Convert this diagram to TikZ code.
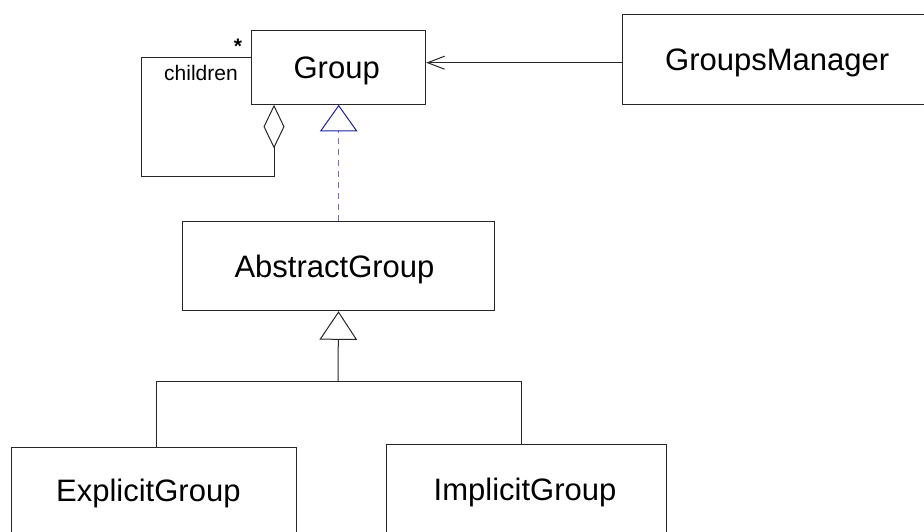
\documentclass[tikz,border=0pt]{standalone}
\usepackage{fontspec}
\setmainfont{Liberation Sans}
\usetikzlibrary{arrows.meta}
\definecolor{realline}{RGB}{110,110,205}
\definecolor{realtip}{RGB}{30,30,160}
% move a class name left inside its box by half the given amount
\newcommand\leftnudge[1]{\hspace*{-#1}}
\begin{document}
\begin{tikzpicture}[x=1pt,y=-1pt,
  classbox/.style={draw=black!85, line width=1pt, rectangle, inner sep=0pt,
    text height=22pt, text depth=0pt,
    font=\fontsize{31}{36}\selectfont},
  assoc/.style={draw=black!85, line width=1pt, -{Straight Barb[length=17pt,width=13pt]}},
  aggr/.style={draw=black!85, line width=1pt, {Diamond[open,length=43.7pt,width=21pt]}-},
  real/.style={draw=realline, line width=1pt, dash pattern=on 6pt off 5pt,
    -{Triangle[open,length=26.7pt,width=37.7pt,color=realtip]}},
  gen/.style={draw=black!85, line width=1pt, -{Triangle[open,length=28.6pt,width=37.7pt]}},
  conn/.style={draw=black!85, line width=1pt},
  rolelabel/.style={font=\fontsize{21}{24}\selectfont, anchor=base, inner sep=0pt}
]
\useasboundingbox (0,0) rectangle (924,532);
\clip (0,0) rectangle (924,532);

% classes
\node[classbox, minimum width=174pt, minimum height=73.3pt] (grp) at (338.7,67.65) {\leftnudge{4pt}Group};
\node[classbox, minimum width=309.7pt, minimum height=90pt] (mgr) at (777.15,60) {GroupsManager};
\node[classbox, minimum width=311.6pt, minimum height=89pt] (abs) at (338.5,266.2) {\leftnudge{8pt}AbstractGroup};
\node[classbox, minimum width=284.3pt, minimum height=86.7pt] (expl) at (153.85,490.65) {\leftnudge{11pt}ExplicitGroup};
\node[classbox, minimum width=280pt, minimum height=89.3pt] (impl) at (526,489.35) {\leftnudge{2pt}ImplicitGroup};

% association GroupsManager -> Group
\coordinate (assocY) at (0,62.7);
\draw[assoc] (mgr.west |- assocY) -- (grp.east |- assocY);

% self aggregation of Group (children)
\coordinate (loopA) at (274,176.7);
\coordinate (loopB) at (141.7,57.7);
\draw[aggr] (grp.south -| loopA) -- (loopA) -| (loopB) -- (grp.west |- loopB);
\node[rolelabel] (role) at (201,81) {children};
\node[rolelabel, font=\fontsize{21}{24}\selectfont\bfseries] (mult) at (238,54) {*};

% AbstractGroup realizes Group
\draw[real] (abs.north -| grp.south) -- (grp.south);

% subclasses of AbstractGroup
\coordinate (junc) at (338,381.7);
\coordinate (brL) at (156.7,381.7);
\coordinate (brR) at (521,381.7);
\draw[gen] (junc) -- (abs.south);
\draw[conn] (brL |- expl.north) -- (brL) -- (brR) -- (brR |- impl.north);
\end{tikzpicture}
\end{document}
